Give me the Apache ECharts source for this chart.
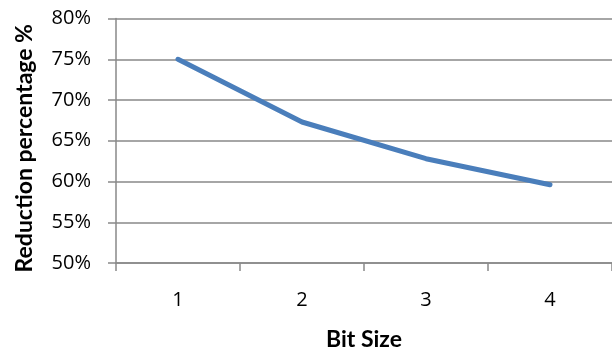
<!DOCTYPE html>
<html>
<head>
<meta charset="utf-8">
<script src="https://cdn.jsdelivr.net/npm/echarts@6/dist/echarts.min.js"></script>
<style>
  html, body { margin: 0; padding: 0; background: #ffffff; }
  #chart { width: 612px; height: 356px; }
</style>
</head>
<body>
<div id="chart"></div>
<script>
// Bit sizes on the x axis
var bitSizes = ['1', '2', '3', '4'];
// Reduction percentage per bit size
var reductionPct = [75.0, 67.3, 62.8, 59.6];
// Value axis range and step (percent)
var yMin = 50, yMax = 80, yStep = 5;

var TICK_FONT = 'Open Sans';
var NAME_FONT = 'Lato';
var gridColor = '#898989';

var chart = echarts.init(document.getElementById('chart'), null, { renderer: 'canvas' });
chart.setOption({
  animation: false,
  backgroundColor: '#ffffff',
  grid: { left: 116, right: 0, top: 18.5, bottom: 88, containLabel: false },
  xAxis: {
    type: 'category',
    data: bitSizes,
    boundaryGap: true,
    name: 'Bit Size',
    nameLocation: 'middle',
    nameGap: 65,
    nameTextStyle: { fontFamily: NAME_FONT, fontSize: 23, fontWeight: 'bold', color: '#000000' },
    axisLine: { show: true, lineStyle: { color: gridColor, width: 1.5 } },
    axisTick: { show: true, length: 8, lineStyle: { color: gridColor, width: 1.5 } },
    axisLabel: { fontFamily: TICK_FONT, fontSize: 20, color: '#000000', margin: 27 },
    splitLine: { show: false }
  },
  yAxis: {
    type: 'value',
    min: yMin,
    max: yMax,
    interval: yStep,
    name: 'Reduction percentage %',
    nameLocation: 'middle',
    nameGap: 80,
    nameTextStyle: { fontFamily: NAME_FONT, fontSize: 23, fontWeight: 'bold', color: '#000000', padding: [0, 15, 0, 0] },
    axisLine: { show: true, lineStyle: { color: gridColor, width: 1.5 } },
    axisTick: { show: true, length: 8, lineStyle: { color: gridColor, width: 1.5 } },
    axisLabel: { fontFamily: TICK_FONT, fontSize: 20, color: '#000000', margin: 25, formatter: '{value}%' },
    splitLine: { show: true, lineStyle: { color: gridColor, width: 1.5 } }
  },
  series: [{
    type: 'line',
    data: reductionPct,
    symbol: 'none',
    lineStyle: { color: '#4a7ebb', width: 5, cap: 'round', join: 'round' },
    itemStyle: { color: '#4a7ebb' }
  }]
});
</script>
</body>
</html>
